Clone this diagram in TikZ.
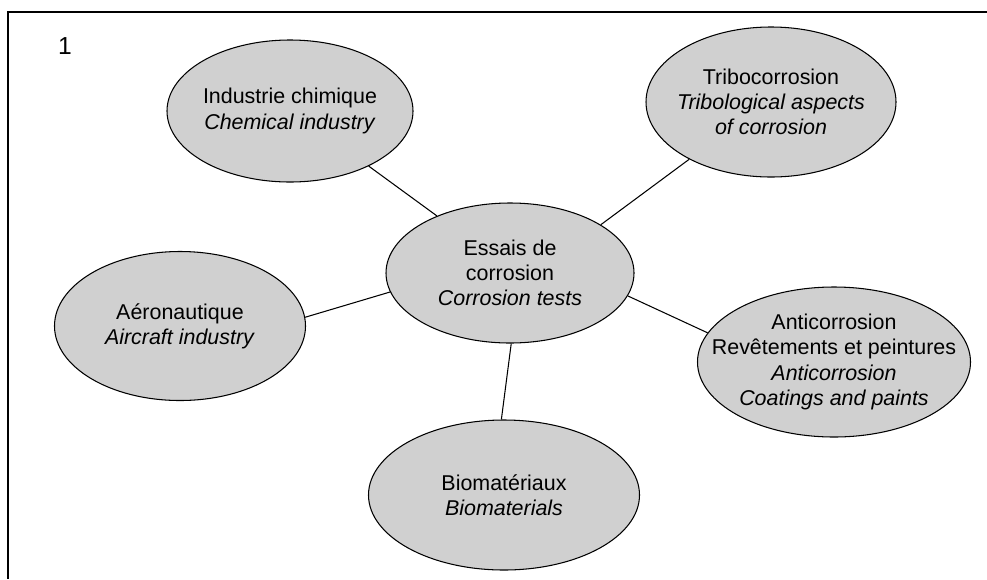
\documentclass[tikz,border=0pt]{standalone}
\usepackage{fontspec}
\setmainfont{Liberation Sans}
\usetikzlibrary{shapes.geometric}

\definecolor{bulle}{RGB}{208,208,208}

\begin{document}
\begin{tikzpicture}[x=0.02cm,y=-0.02cm]

        \useasboundingbox (0,0) rectangle (987,579);
        \draw[line width=1pt] (987,12) -- (8,12) -- (8,579);

        \node[font=\fontsize{14}{16}\selectfont] (num) at (65,46) {1};

        \begin{scope}[every node/.style={ellipse, draw, fill=bulle, inner xsep=-0.7cm, inner ysep=0pt,
            align=center, line width=0.6pt, font=\fontsize{12.2}{14.4}\selectfont}]
          \node[minimum width=248*0.02cm, minimum height=140*0.02cm] (0) at (510,273)
            {Essais de\\corrosion\\\textit{Corrosion tests}};
          \node[minimum width=246*0.02cm, minimum height=142*0.02cm] (1) at (290,111)
            {Industrie chimique\\\textit{Chemical industry}};
          \node[minimum width=250*0.02cm, minimum height=150*0.02cm] (2) at (771,102)
            {Tribocorrosion\\\textit{Tribological aspects}\\\textit{of corrosion}};
          \node[minimum width=251*0.02cm, minimum height=149*0.02cm] (3) at (180,326)
            {A\'eronautique\\\textit{Aircraft industry}};
          \node[minimum width=273*0.02cm, minimum height=150*0.02cm] (4) at (834,362)
            {Anticorrosion\\Rev\^etements et peintures\\\textit{Anticorrosion}\\\textit{Coatings and paints}};
          \node[minimum width=271*0.02cm, minimum height=150*0.02cm] (5) at (504,495)
            {Biomat\'eriaux\\\textit{Biomaterials}};
        \end{scope}

        \begin{scope}[every edge/.style={draw, line width=0.6pt}]
          \path (1.-35)  edge (0.142);
          \path (2.215)  edge (0.28);
          \path (3.4)    edge (0.189);
          \path (4.167)  edge (0.-11);
          \path (5.92)   edge (0.-89);
        \end{scope}

      \end{tikzpicture}
\end{document}
